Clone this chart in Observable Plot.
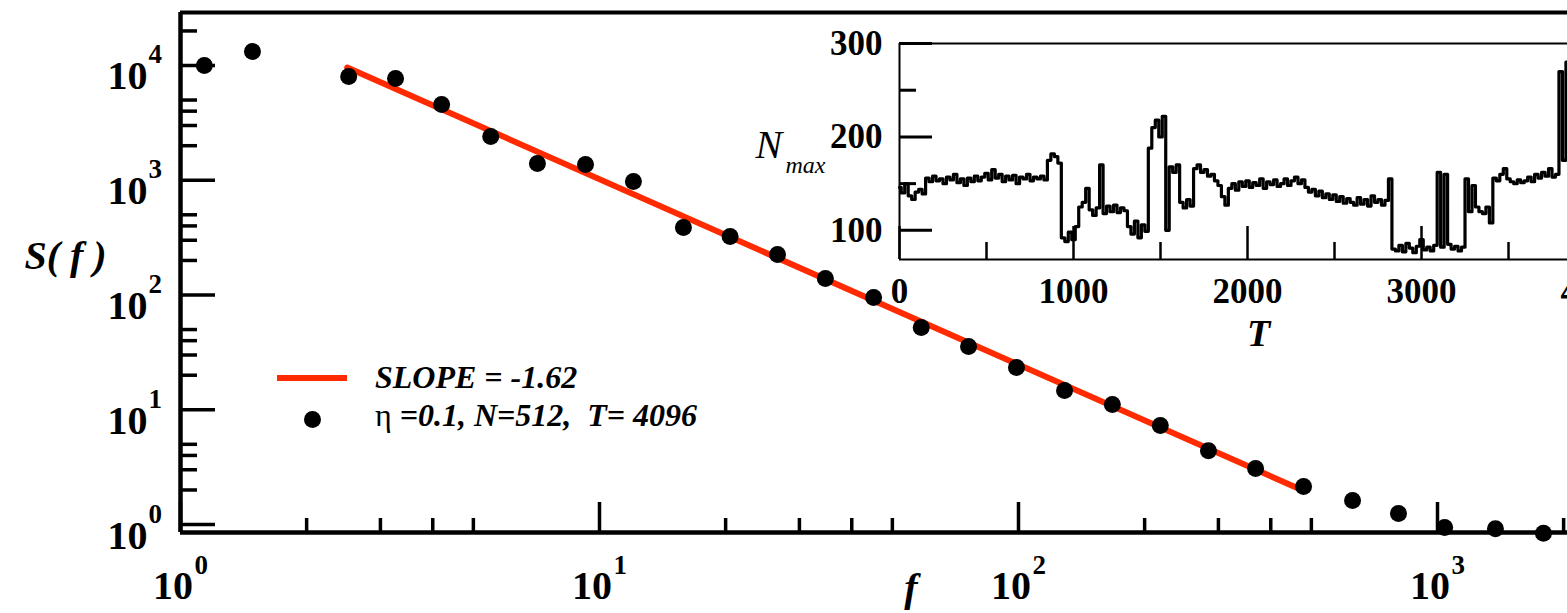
<!DOCTYPE html>
<html>
<head>
<meta charset="utf-8">
<script src="https://cdn.jsdelivr.net/npm/d3@7"></script>
<script src="https://cdn.jsdelivr.net/npm/@observablehq/plot@0.6"></script>
<style>
html, body { margin: 0; padding: 0; background: #fff; overflow: hidden; }
#wrap { position: relative; width: 1567px; height: 613px; overflow: hidden; font-family: "Liberation Serif", "Times New Roman", "DejaVu Serif", serif; }
#wrap > svg { position: absolute; left: 0; top: 0; }
#insetBox { position: absolute; left: 740px; top: 0; }
.lg { position: absolute; font-size: 32px; line-height: 32px; font-weight: bold; font-style: italic; white-space: pre; color: #000; }
.swLine { position: absolute; background: #ff2a00; }
.swDot { position: absolute; background: #000; border-radius: 50%; }
</style>
</head>
<body>
<div id="wrap"><div id="insetBox"></div></div>
<script>
// ---------- main spectrum data ----------
const freq  = [1.14, 1.485, 2.52, 3.26, 4.2, 5.5, 7.11, 9.26, 12.05, 15.86, 20.5, 26.6, 34.6, 45.1,
               58.6, 76, 98.9, 128.8, 167.5, 218, 284, 368, 479, 627, 807, 1040, 1375, 1790];
const power = [10000, 13240, 8020, 7710, 4570, 2405, 1400, 1373, 976, 388, 324, 225, 139, 95,
               52, 35.6, 23.3, 14.7, 11.1, 7.3, 4.4, 3.08, 2.14, 1.62, 1.25, 0.94, 0.92, 0.84];
// fitted power law, slope -1.62 (end points)
const fitF = [2.5, 460];
const fitS = [9600, 2.1];

// main axis ticks
const xMajor = [1, 10, 100, 1000];
const xExp = ["0", "1", "2", "3"];
const xMinor = [2, 3, 4, 5, 20, 30, 40, 50, 200, 300, 400, 500, 2000];
const yMajor = [1, 10, 100, 1000, 10000];
const yExp = ["0", "1", "2", "3", "4"];
const yMinor = [2, 3, 4, 5, 20, 30, 40, 50, 200, 300, 400, 500, 2000, 3000, 4000, 5000, 20000];

// legend labels
const legendFit = "SLOPE = -1.62";
const legendEta = "\u03b7";
const legendData = " =0.1, N=512,  T= 4096";

// ---------- inset: N_max vs T (sampled every 20 steps) ----------
const insetStep = 20;
const insetN = [
  146, 140, 150, 137, 133, 141, 144, 139,
  156, 152, 158, 153, 155, 150, 157, 154, 160, 151, 155, 148, 156, 152, 158, 153, 157, 161, 154, 165,
  156, 160, 152, 158, 154, 159, 150, 157, 155, 160, 153, 157, 155, 158, 154,
  175, 182, 179, 172,
  92, 88, 98, 90, 104,
  125, 130, 145, 122, 116, 124, 170, 118, 126, 120, 127, 119, 124, 121,
  104, 96, 110, 92, 106, 99,
  188, 210, 218, 200, 222, 100, 168, 162, 170,
  130, 124, 133, 126,
  166, 170, 162, 165, 158, 160, 153, 148,
  136, 127,
  145, 150, 143, 152, 147, 153, 146, 151, 148, 155, 145, 152, 149, 154, 147, 150, 155, 148, 153, 157, 150, 154, 146,
  141, 144, 137, 142, 135, 139, 133, 138, 131, 136, 129, 134, 130, 127, 135, 128, 133, 126, 137, 130, 133, 127,
  132, 155,
  80, 78, 84, 77, 86, 81, 76, 83, 90, 79, 82, 78, 84,
  162, 82, 160, 85,
  80, 83, 78, 82,
  155, 120, 148, 125,
  120, 118, 125, 108,
  156, 153,
  160, 166, 155, 152, 150, 154, 151, 153, 157, 152, 160, 156, 162, 158, 166, 157, 160,
  270, 175, 280
];
const insetXMajor = [0, 1000, 2000, 3000];
const insetXLabels = [0, 1000, 2000, 3000, 4000];
const insetXMinor = [500, 1500, 2500, 3500];
const insetYMajor = [100, 200, 300];
const insetYMinor = [150, 250];

// ---------- build tables ----------
const spectrum = freq.map((f, i) => ({f, s: power[i]}));
const fit = fitF.map((f, i) => ({f, s: fitS[i]}));
const series = insetN.map((n, i) => ({t: i * insetStep, n}));

const FONT = "'Liberation Serif', 'Times New Roman', 'DejaVu Serif', serif";
const W = 1567, H = 613;
const mL = 180, mT = 12, mB = 81, mR = 0;
const plotW = W - mL - mR, plotH = H - mT - mB;
const xDom = [1, 2043], yDom = [0.852, 28960];

const main = Plot.plot({
  width: W, height: H,
  marginLeft: mL, marginRight: mR, marginTop: mT, marginBottom: mB,
  x: {type: "log", domain: xDom, axis: null},
  y: {type: "log", domain: yDom, axis: null},
  style: {fontFamily: FONT, background: "white", overflow: "visible"},
  marks: [
    Plot.ruleX(xMinor, {x: d => d, insetTop: plotH - 14, strokeWidth: 3.5}),
    Plot.ruleX(xMajor, {x: d => d, insetTop: plotH - 30, strokeWidth: 3.5}),
    Plot.ruleY(yMinor, {y: d => d, insetRight: plotW - 17, strokeWidth: 3.5}),
    Plot.ruleY(yMajor, {y: d => d, insetRight: plotW - 35, strokeWidth: 3.5}),
    Plot.ruleX([xDom[0]], {x: d => d, strokeWidth: 4.5}),
    Plot.ruleY([yDom[0]], {y: d => d, strokeWidth: 4.5}),
    Plot.ruleY([yDom[1]], {y: d => d, strokeWidth: 4}),
    Plot.line(fit, {x: "f", y: "s", stroke: "#ff2a00", strokeWidth: 6}),
    Plot.dot(spectrum, {x: "f", y: "s", r: 8.5, fill: "black", stroke: "none"}),
    // x tick labels 10^n
    Plot.text(xMajor, {x: d => d, text: () => "10", frameAnchor: "bottom", dx: -7.5, dy: 66,
      lineAnchor: "bottom", textAnchor: "middle", fontSize: 40, fontWeight: "bold"}),
    Plot.text(xMajor, {x: d => d, text: (d, i) => xExp[i], frameAnchor: "bottom", dx: 14, dy: 41,
      lineAnchor: "bottom", textAnchor: "start", fontSize: 27, fontWeight: "bold"}),
    // y tick labels 10^n
    Plot.text(yMajor, {y: d => d, text: () => "10", frameAnchor: "left", dx: -33, dy: 24,
      lineAnchor: "bottom", textAnchor: "end", fontSize: 40, fontWeight: "bold"}),
    Plot.text(yMajor, {y: d => d, text: (d, i) => yExp[i], frameAnchor: "left", dx: -32, dy: -2,
      lineAnchor: "bottom", textAnchor: "start", fontSize: 27, fontWeight: "bold"}),
    // axis titles
    Plot.text(["S( f )"], {frameAnchor: "left", dx: -115, dy: -16, textAnchor: "middle", lineAnchor: "middle",
      fontSize: 40, fontWeight: "bold", fontStyle: "italic"}),
    Plot.text(["f"], {frameAnchor: "bottom", dx: 37, dy: 68, textAnchor: "middle", lineAnchor: "bottom",
      fontSize: 40, fontWeight: "bold", fontStyle: "italic"})
  ]
});
document.getElementById("wrap").insertBefore(main, document.getElementById("insetBox"));

// ---------- inset ----------
const iW = 827, iH = 355;
const iL = 159, iT = 43, iB = 96, iR = 0;
const iPW = iW - iL - iR, iPH = iH - iT - iB;
const iXDom = [0, 3839], iYDom = [68.8, 300];

const inset = Plot.plot({
  width: iW, height: iH,
  marginLeft: iL, marginRight: iR, marginTop: iT, marginBottom: iB,
  x: {domain: iXDom, axis: null},
  y: {domain: iYDom, axis: null},
  style: {fontFamily: FONT, background: "transparent", overflow: "visible"},
  marks: [
    Plot.frame({fill: "white", stroke: "none"}),
    Plot.lineY(series, {x: "t", y: "n", curve: "step", stroke: "black", strokeWidth: 3.2}),
    Plot.ruleX(insetXMinor, {x: d => d, insetTop: iPH - 17, strokeWidth: 2.5}),
    Plot.ruleX(insetXMajor, {x: d => d, insetTop: iPH - 33, strokeWidth: 2.5}),
    Plot.ruleY(insetYMinor, {y: d => d, insetRight: iPW - 17, strokeWidth: 3}),
    Plot.ruleY(insetYMajor, {y: d => d, insetRight: iPW - 33, strokeWidth: 3}),
    Plot.ruleX([iXDom[0]], {x: d => d, strokeWidth: 2}),
    Plot.ruleY([iYDom[0]], {y: d => d, strokeWidth: 2}),
    Plot.ruleY([iYDom[1]], {y: d => d, strokeWidth: 2}),
    Plot.text(insetXLabels, {x: d => d, text: d => String(d), frameAnchor: "bottom", dy: 43,
      lineAnchor: "bottom", textAnchor: "middle", fontSize: 35, fontWeight: "bold"}),
    Plot.text(insetYMajor, {y: d => d, text: d => String(d), frameAnchor: "left", dx: -17,
      lineAnchor: "middle", textAnchor: "end", fontSize: 35, fontWeight: "bold"}),
    Plot.text(["N"], {frameAnchor: "left", dx: -144, dy: 6, lineAnchor: "bottom", textAnchor: "start",
      fontSize: 40, fontStyle: "italic"}),
    Plot.text(["max"], {frameAnchor: "left", dx: -114, dy: 21, lineAnchor: "bottom", textAnchor: "start",
      fontSize: 24, fontStyle: "italic"}),
    Plot.text(["T"], {frameAnchor: "bottom", dx: 25, dy: 86, lineAnchor: "bottom", textAnchor: "middle",
      fontSize: 38, fontWeight: "bold", fontStyle: "italic"})
  ]
});
document.getElementById("insetBox").appendChild(inset);

// ---------- legend ----------
const wrap = document.getElementById("wrap");
function el(cls, css, text) {
  const d = document.createElement("div");
  d.className = cls;
  Object.assign(d.style, css);
  if (text !== undefined) d.textContent = text;
  wrap.appendChild(d);
  return d;
}
el("swLine", {left: "277px", top: "375px", width: "70px", height: "6px"});
el("lg", {left: "375px", top: "361px"}, legendFit);
el("swDot", {left: "304px", top: "411px", width: "17px", height: "17px"});
const row2 = el("lg", {left: "375px", top: "399px"});
const eta = document.createElement("span");
eta.style.fontStyle = "normal";
eta.style.fontWeight = "normal";
eta.textContent = legendEta;
row2.appendChild(eta);
row2.appendChild(document.createTextNode(legendData));
</script>
</body>
</html>
